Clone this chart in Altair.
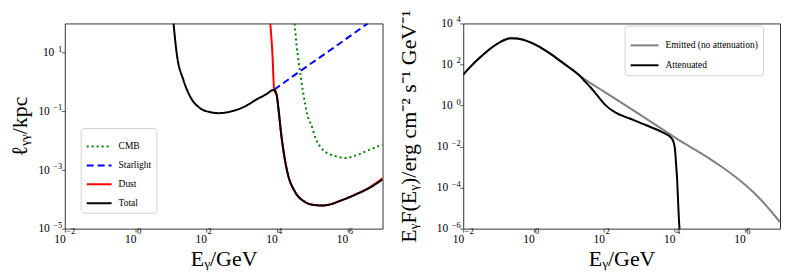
import altair as alt
import pandas as pd

FONT = "Liberation Serif"

# ---------------- Left panel: pair-production length (log10 readings) ----------------
comp_names = ["CMB", "Starlight", "Dust", "Total"]
comp_colors = ["#008000", "#0000ff", "#ff0000", "#000000"]

cmb_logE = [4.51, 4.56, 4.63, 4.74, 4.88, 4.98, 5.12, 5.31, 5.50, 5.68, 5.97, 6.25, 6.63, 7.0]
cmb_logL = [2.0, 1.32, 0.64, -0.27, -1.17, -1.46, -1.96, -2.31, -2.46, -2.53, -2.59, -2.50, -2.31, -2.13]

star_logE = [3.93, 4.65, 5.59, 6.58]
star_logL = [-0.26, 0.36, 1.15, 2.0]

dust_logE = [3.82, 3.88, 3.93, 4.0, 4.06, 4.12, 4.21, 4.32, 4.51, 4.79, 5.05, 5.3, 5.55, 5.78, 6.25, 6.63, 7.0]
dust_logL = [2.0, 0.98, -0.26, -0.44, -1.0, -1.68, -2.47, -3.15, -3.72, -4.08, -4.19, -4.21, -4.16, -4.06, -3.82, -3.59, -3.28]

total_logE = [1.08, 1.17, 1.36, 1.55, 1.83, 2.1, 2.35, 2.6, 2.86, 3.15, 3.42, 3.7, 3.93,
              4.0, 4.06, 4.12, 4.21, 4.32, 4.51, 4.79, 5.05, 5.3, 5.55, 5.78, 6.25, 6.63, 7.0]
total_logL = [2.0, 0.98, 0.07, -0.49, -0.89, -1.02, -1.06, -1.03, -0.95, -0.80, -0.60, -0.42, -0.26,
              -0.44, -1.0, -1.68, -2.47, -3.15, -3.72, -4.08, -4.19, -4.21, -4.16, -4.06, -3.83, -3.61, -3.32]

# ---------------- Right panel: spectrum (log10 readings) ----------------
spec_names = ["Emitted (no attenuation)", "Attenuated"]
spec_colors = ["#808080", "#000000"]

emit_logE = [-2.0, -1.75, -1.51, -1.27, -1.03, -0.85, -0.66, -0.47, -0.28, 0.10, 0.48, 0.86, 1.33,
             2.0, 2.5, 3.0, 3.62, 4.19, 4.75, 5.32, 5.89, 6.36, 6.74, 7.0]
emit_logF = [1.51, 1.97, 2.36, 2.72, 3.01, 3.18, 3.28, 3.27, 3.20, 2.92, 2.52, 2.04, 1.42,
             0.68, 0.13, -0.42, -1.11, -1.75, -2.32, -2.96, -3.69, -4.42, -5.14, -5.68]

att_logE = [-2.0, -1.75, -1.51, -1.27, -1.03, -0.85, -0.66, -0.47, -0.28, 0.10, 0.48, 0.86, 1.33,
            1.47, 1.62, 1.76, 2.04, 2.33, 2.71, 3.18, 3.65, 3.91, 3.97, 4.01, 4.05, 4.08, 4.11, 4.13, 4.16]
att_logF = [1.51, 1.97, 2.36, 2.72, 3.01, 3.18, 3.28, 3.27, 3.20, 2.92, 2.52, 2.04, 1.42,
            1.15, 0.88, 0.59, 0.02, -0.35, -0.62, -0.95, -1.30, -1.58, -1.75, -2.05, -2.9, -3.7, -4.9, -5.6, -6.3]

x_exps = [-2, 0, 2, 4, 6]
left_y_exps = [-5, -3, -1, 1]
right_y_exps = [-6, -4, -2, 0, 2, 4]

BASE_SIZE = 11.5
EXP_SIZE = 8.5
EXP_EXPR = "replace(format(round(log(datum.value)/LN10), 'd'), '-', '\u2212')"


def frame(series, name_col, val_col):
    rows = []
    for name, le, lv in series:
        for a, b in zip(le, lv):
            rows.append({"E": 10 ** a, val_col: 10 ** b, name_col: name})
    return pd.DataFrame(rows)


left_df = frame([("CMB", cmb_logE, cmb_logL), ("Starlight", star_logE, star_logL),
                 ("Dust", dust_logE, dust_logL), ("Total", total_logE, total_logL)], "comp", "L")
right_df = frame([("Emitted (no attenuation)", emit_logE, emit_logF),
                  ("Attenuated", att_logE, att_logF)], "series", "F")


def x_axes():
    vals = [10.0 ** e for e in x_exps]
    base = alt.Axis(values=vals, orient="bottom", labelExpr="'10'", labelAlign="right", labelOffset=0.5,
                    labelPadding=1, labelFontSize=BASE_SIZE, title="E\u1d67/GeV", titlePadding=4)
    expo = alt.Axis(values=vals, orient="bottom", labelExpr=EXP_EXPR, labelAlign="left", labelOffset=1,
                    labelPadding=-2, labelFontSize=EXP_SIZE, ticks=False, title=None)
    return base, expo


def y_axes(exps, title, tx):
    vals = [10.0 ** e for e in exps]
    base = alt.Axis(values=vals, orient="left", labelExpr="'10'", labelAlign="right",
                    labelFontSize=BASE_SIZE,
                    labelPadding={"condition": {"test": "datum.value < 1", "value": 12}, "value": 7.5},
                    title=title, titleX=tx, titleY=103)
    expo = alt.Axis(values=vals, orient="left", labelExpr=EXP_EXPR, labelAlign="right",
                    labelOffset=-4.5, labelFontSize=EXP_SIZE, labelPadding=3, ticks=False, title=None)
    return base, expo


def leg(x, y, size, rowpad):
    return alt.Legend(title=None, orient="none", legendX=x, legendY=y, fillColor="white",
                      strokeColor="#d0d0d0", cornerRadius=3, padding=5, labelFont=FONT,
                      labelFontSize=9.5, labelColor="black", symbolSize=size, rowPadding=rowpad,
                      labelOffset=6)


def panel(df, yfield, ydomain, yexps, ytitle, tx, color_field, names, colors, dashes, widths, lg, w):
    xs = alt.Scale(type="log", domain=[1e-2, 1e7])
    ys = alt.Scale(type="log", domain=ydomain)
    xb, xe = x_axes()
    yb, ye = y_axes(yexps, ytitle, tx)
    enc = dict(
        color=alt.Color(f"{color_field}:N", scale=alt.Scale(domain=names, range=colors), legend=lg),
        strokeWidth=alt.StrokeWidth(f"{color_field}:N", scale=alt.Scale(domain=names, range=widths),
                                    legend=lg),
    )
    if dashes is not None:
        enc["strokeDash"] = alt.StrokeDash(f"{color_field}:N", scale=alt.Scale(domain=names, range=dashes),
                                           legend=lg)
    lines = alt.Chart(df).mark_line(clip=True, interpolate="monotone").encode(
        x=alt.X("E:Q", scale=xs, axis=xb), y=alt.Y(f"{yfield}:Q", scale=ys, axis=yb), **enc)
    ghost = alt.Chart(df).mark_point(opacity=0, clip=True).encode(
        x=alt.X("E:Q", scale=xs, axis=xe), y=alt.Y(f"{yfield}:Q", scale=ys, axis=ye))
    return alt.layer(lines, ghost).resolve_axis(x="independent", y="independent").properties(
        width=w, height=206)


left = panel(left_df, "L", [1e-5, 1e2], left_y_exps, "\u2113\u1d67\u1d67/kpc", -33, "comp",
             comp_names, comp_colors, [[2, 3], [7, 4], [1, 0], [1, 0]], [2, 2, 2, 2.8],
             leg(16, 105, 625, 1), 319)
right = panel(right_df, "F", [1e-6, 1e4], right_y_exps,
              "E\u1d67F(E\u1d67)/erg cm\u207b\u00b2 s\u207b\u00b9 GeV\u207b\u00b9", -43, "series",
              spec_names, spec_colors, None, [2, 2], leg(162, 2, 784, -3), 318)

chart = alt.hconcat(left, right, spacing=81, bounds="flush",
                    padding={"left": 0, "top": 0, "right": 0, "bottom": 0}).resolve_scale(
    color="independent", strokeDash="independent", strokeWidth="independent", x="independent",
    y="independent").configure_axis(
    labelFont=FONT, titleFont=FONT, titleFontSize=22, titleFontWeight="normal",
    tickSize=3.5, tickColor="#333", tickWidth=0.8, domain=False, grid=False,
    labelColor="black", titleColor="black", labelOverlap=False).configure_view(
    stroke="#333", strokeWidth=1)

chart.save("out.html", embed_options={"renderer": "svg", "actions": False})
